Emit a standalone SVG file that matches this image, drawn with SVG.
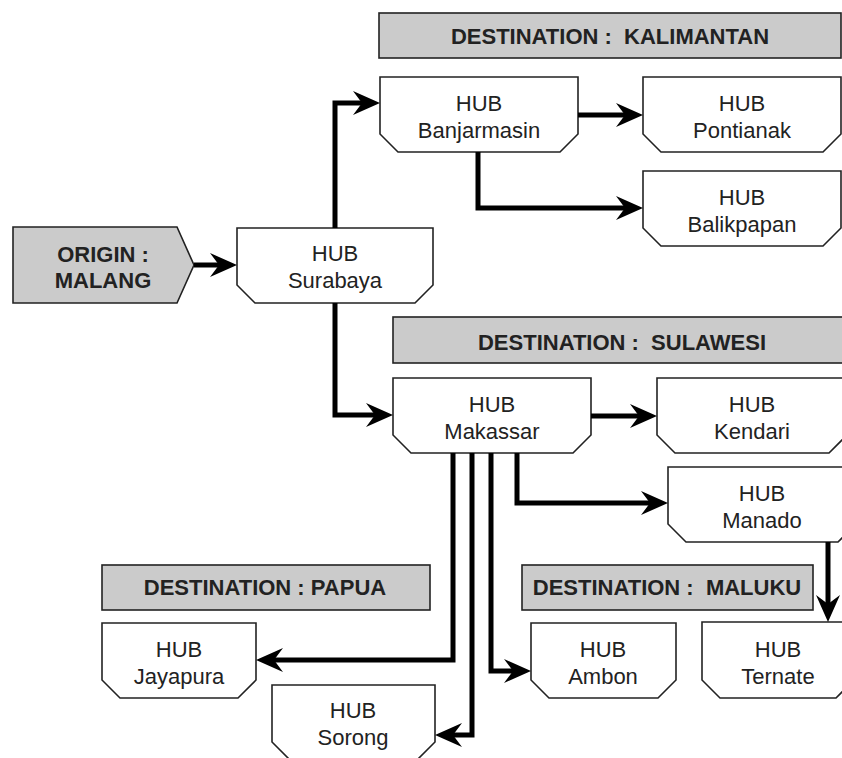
<svg xmlns="http://www.w3.org/2000/svg" width="842" height="758" viewBox="0 0 842 758">
<style>
.hdr{fill:#cbcbcb;stroke:#222;stroke-width:1.6}
.node{fill:#fff;stroke:#222;stroke-width:1.6}
.ht{font-family:"Liberation Sans",Arial,sans-serif;font-size:22px;font-weight:bold;fill:#222;text-anchor:middle;white-space:pre}
.nt{font-family:"Liberation Sans",Arial,sans-serif;font-size:22px;fill:#222;text-anchor:middle}
.c{fill:none;stroke:#000;stroke-width:5;stroke-linejoin:miter;marker-end:url(#ah)}
</style>
<defs>
<marker id="ah" markerUnits="userSpaceOnUse" markerWidth="40" markerHeight="30" viewBox="-15 -15 40 30" refX="0" refY="0" orient="auto" overflow="visible">
<path d="M15,0 L-12,-12 L-3,0 L-12,12 Z" fill="#000"/>
</marker>
</defs>
<rect width="842" height="758" fill="#fff"/>

<g id="hdr-kalimantan"><rect class="hdr" x="379" y="13" width="462" height="45"/><text class="ht" x="610" y="44">DESTINATION :  KALIMANTAN</text></g>
<g id="hdr-sulawesi"><rect class="hdr" x="393" y="317" width="460" height="46"/><text class="ht" x="622" y="350">DESTINATION :  SULAWESI</text></g>
<g id="hdr-papua"><rect class="hdr" x="102" y="565" width="328" height="45"/><text class="ht" x="265" y="595">DESTINATION : PAPUA</text></g>
<g id="hdr-maluku"><rect class="hdr" x="522" y="565" width="291" height="45"/><text class="ht" x="667" y="595">DESTINATION :  MALUKU</text></g>

<g id="origin"><path class="hdr" d="M13,227 H177 L194,265 L177,303 H13 Z"/><text class="ht" x="103" y="262">ORIGIN :</text><text class="ht" x="103" y="288">MALANG</text></g>

<g id="surabaya"><path class="node" d="M237,228 H433 V285 L415,303 H255 L237,285 Z"/><text class="nt" x="335" y="261">HUB</text><text class="nt" x="335" y="288">Surabaya</text></g>
<g id="banjarmasin"><path class="node" d="M380,77 H578 V134 L560,152 H398 L380,134 Z"/><text class="nt" x="479" y="111">HUB</text><text class="nt" x="479" y="138">Banjarmasin</text></g>
<g id="pontianak"><path class="node" d="M643,77 H841 V134 L823,152 H661 L643,134 Z"/><text class="nt" x="742" y="111">HUB</text><text class="nt" x="742" y="138">Pontianak</text></g>
<g id="balikpapan"><path class="node" d="M643,171 H841 V228 L823,246 H661 L643,228 Z"/><text class="nt" x="742" y="205">HUB</text><text class="nt" x="742" y="232">Balikpapan</text></g>
<g id="makassar"><path class="node" d="M393,378 H591 V435 L573,453 H411 L393,435 Z"/><text class="nt" x="492" y="412">HUB</text><text class="nt" x="492" y="439">Makassar</text></g>
<g id="kendari"><path class="node" d="M657,378 H847 V435 L829,453 H675 L657,435 Z"/><text class="nt" x="752" y="412">HUB</text><text class="nt" x="752" y="439">Kendari</text></g>
<g id="manado"><path class="node" d="M668,467 H856 V524 L838,542 H686 L668,524 Z"/><text class="nt" x="762" y="501">HUB</text><text class="nt" x="762" y="528">Manado</text></g>
<g id="jayapura"><path class="node" d="M102,623 H256 V680 L238,698 H120 L102,680 Z"/><text class="nt" x="179" y="657">HUB</text><text class="nt" x="179" y="684">Jayapura</text></g>
<g id="sorong"><path class="node" d="M272,685 H435 V742 L417,760 H290 L272,742 Z"/><text class="nt" x="353" y="718">HUB</text><text class="nt" x="353" y="745">Sorong</text></g>
<g id="ambon"><path class="node" d="M531,623 H676 V680 L658,698 H549 L531,680 Z"/><text class="nt" x="603" y="657">HUB</text><text class="nt" x="603" y="684">Ambon</text></g>
<g id="ternate"><path class="node" d="M702,622 H854 V680 L836,698 H720 L702,680 Z"/><text class="nt" x="778" y="657">HUB</text><text class="nt" x="778" y="684">Ternate</text></g>

<g id="connectors">
<path class="c" d="M194,265 H222"/>
<path class="c" d="M335,228 V103 H365"/>
<path class="c" d="M335,303 V415 H378"/>
<path class="c" d="M578,115 H628"/>
<path class="c" d="M478,152 V208 H628"/>
<path class="c" d="M591,416 H642"/>
<path class="c" d="M517,453 V503 H653"/>
<path class="c" d="M453,453 V660 H271"/>
<path class="c" d="M472,453 V735 H450"/>
<path class="c" d="M491,453 V671 H516"/>
<path class="c" d="M828,542 V607"/>
</g>
</svg>
